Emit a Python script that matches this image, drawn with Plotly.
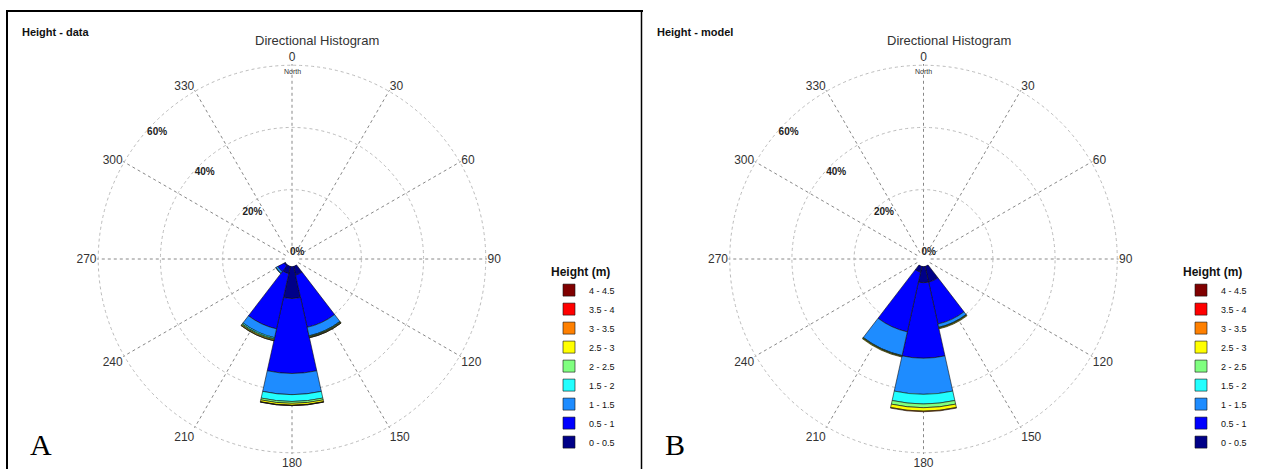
import plotly.graph_objects as go

# ---------------- data ----------------
bins = ["0 - 0.5", "0.5 - 1", "1 - 1.5", "1.5 - 2", "2 - 2.5",
        "2.5 - 3", "3 - 3.5", "3.5 - 4", "4 - 4.5"]
bin_colors = ["#000088", "#0000FF", "#1E8CFF", "#22FFFF", "#80FF80",
              "#FFFF00", "#FF8000", "#FF0000", "#800000"]

dir_a = [155, 180, 205, 230]   # degrees (compass)
dir_b = [155, 180, 205]

# panel A (data) – % of occurrences per height bin
a_h00 = [3.0, 10.4, 2.5, 0.5]
a_h05 = [17.2, 24.1, 18.2, 2.3]
a_h10 = [2.8, 6.8, 2.9, 0.7]
a_h15 = [0.2, 2.2, 0.4, 0.1]
a_h20 = [0.2, 0.6, 0.3, 0.0]
a_h25 = [0.2, 0.6, 0.3, 0.0]
a_h30 = [0.05, 0.1, 0.05, 0.0]
a_h35 = [0.0, 0.03, 0.0, 0.0]
a_h40 = [0.0, 0.0, 0.0, 0.0]

# panel B (model)
b_h00 = [5.3, 5.3, 2.0]
b_h05 = [13.8, 24.3, 19.7]
b_h10 = [1.1, 11.6, 7.8]
b_h15 = [0.15, 3.1, 0.15]
b_h20 = [0.15, 1.2, 0.15]
b_h25 = [0.2, 1.1, 0.2]
b_h30 = [0.0, 0.2, 0.0]
b_h35 = [0.0, 0.0, 0.0]
b_h40 = [0.0, 0.0, 0.0]

angle_ticks = [0, 30, 60, 90, 120, 150, 180, 210, 240, 270, 300, 330]
radial_ticks = [0, 20, 40, 60]
radial_text = ["0%", "20%", "40%", "60%"]

a_series = [a_h00, a_h05, a_h10, a_h15, a_h20, a_h25, a_h30, a_h35, a_h40]
b_series = [b_h00, b_h05, b_h10, b_h15, b_h20, b_h25, b_h30, b_h35, b_h40]

FONT = "Liberation Sans"
W, H = 1273, 469
fig = go.Figure()

for name, col, vals in zip(bins, bin_colors, a_series):
    fig.add_trace(go.Barpolar(r=vals, theta=dir_a, width=[25] * len(dir_a),
                              name=name, marker=dict(color=col, line=dict(color="#111", width=0.6)),
                              subplot="polar", legend="legend"))
for name, col, vals in zip(bins, bin_colors, b_series):
    fig.add_trace(go.Barpolar(r=vals, theta=dir_b, width=[25] * len(dir_b),
                              name=name, marker=dict(color=col, line=dict(color="#111", width=0.6)),
                              subplot="polar2", legend="legend2"))

R = 195
cy = 259


def polar_cfg(cx):
    return dict(
        domain=dict(x=[(cx - R) / W, (cx + R) / W], y=[(H - cy - R) / H, (H - cy + R) / H]),
        hole=0.037,
        bgcolor="rgba(0,0,0,0)",
        barmode="stack",
        angularaxis=dict(rotation=90, direction="clockwise", tickmode="array",
                         tickvals=angle_ticks, ticktext=[str(v) for v in angle_ticks],
                         showline=False, ticks="", gridcolor="#888", griddash="dot",
                         gridwidth=1, tickfont=dict(family=FONT, size=12, color="#333")),
        radialaxis=dict(range=[0, 60.4], tickmode="array", tickvals=radial_ticks,
                        ticktext=["<b>%s</b>" % t for t in radial_text],
                        angle=140, tickangle=140, side="clockwise",
                        showline=False, ticks="",
                        gridcolor="#bbb", griddash="dot", gridwidth=1,
                        tickfont=dict(family=FONT, size=10, color="#222")),
    )


fig.update_layout(
    width=W, height=H, margin=dict(l=0, r=0, t=0, b=0),
    paper_bgcolor="white", plot_bgcolor="white",
    font=dict(family=FONT),
    polar=polar_cfg(292),
    polar2=polar_cfg(923.5),
    legend=dict(x=549 / W, y=1 - 260 / H, xanchor="left", yanchor="top",
                traceorder="reversed", font=dict(size=9, color="#111"),
                title=dict(text="<b>Height (m)</b>", font=dict(size=12, color="#111")),
                bgcolor="rgba(0,0,0,0)"),
    legend2=dict(x=1181 / W, y=1 - 260 / H, xanchor="left", yanchor="top",
                 traceorder="reversed", font=dict(size=9, color="#111"),
                 title=dict(text="<b>Height (m)</b>", font=dict(size=12, color="#111")),
                 bgcolor="rgba(0,0,0,0)"),
    showlegend=True,
)

ann = []
for x0, label, letter, cx in [(20, "Height - data", "A", 292), (655, "Height - model", "B", 923.5)]:
    ann.append(dict(x=x0 / W, y=1 - 32 / H, xref="paper", yref="paper", xanchor="left", yanchor="middle",
                    text="<b>%s</b>" % label, showarrow=False, font=dict(family=FONT, size=11, color="#111")))
    ann.append(dict(x=(cx + 25) / W, y=1 - 40 / H, xref="paper", yref="paper", xanchor="center",
                    yanchor="middle", text="Directional Histogram", showarrow=False,
                    font=dict(family=FONT, size=13, color="#333")))
    ann.append(dict(x=cx / W, y=1 - 71 / H, xref="paper", yref="paper", xanchor="center", yanchor="middle",
                    text="North", showarrow=False, font=dict(family=FONT, size=7, color="#333")))
    ann.append(dict(x=(x0 + 8) / W, y=1 - 444 / H, xref="paper", yref="paper", xanchor="left",
                    yanchor="middle", text=letter, showarrow=False,
                    font=dict(family="Liberation Serif", size=30, color="#000")))
fig.update_layout(annotations=ann)

fig.update_layout(shapes=[
    dict(type="line", xref="paper", yref="paper", x0=7 / W, x1=7 / W, y0=0, y1=1 - 10 / H,
         line=dict(color="#000", width=2)),
    dict(type="line", xref="paper", yref="paper", x0=6 / W, x1=643 / W, y0=1 - 11 / H, y1=1 - 11 / H,
         line=dict(color="#000", width=2)),
    dict(type="line", xref="paper", yref="paper", x0=641.5 / W, x1=641.5 / W, y0=0, y1=1 - 11 / H,
         line=dict(color="#000", width=1.5)),
])

fig.write_html("out.html", config={"displayModeBar": False},
               post_script="document.body.style.margin='0px';document.body.style.overflow='hidden';")
